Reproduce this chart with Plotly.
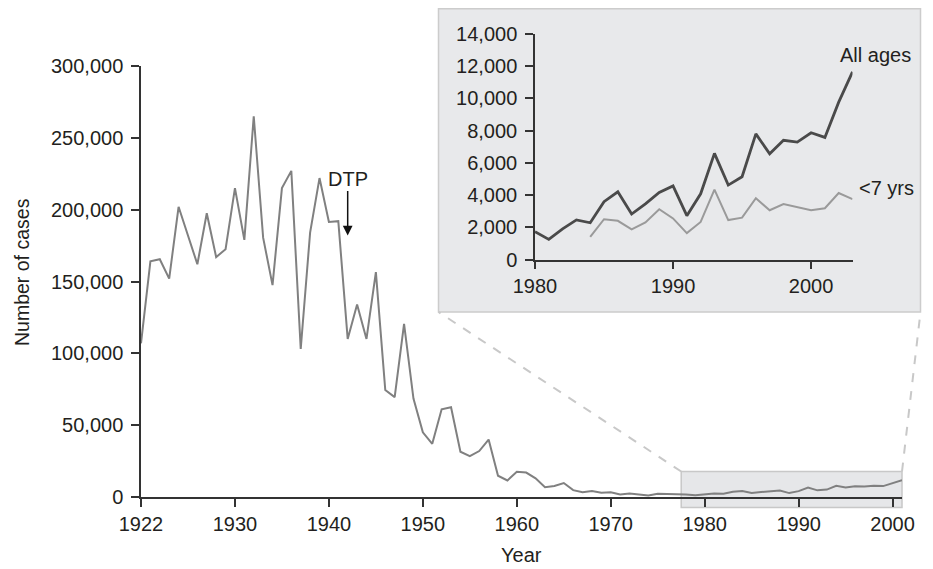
import plotly.graph_objects as go

# Reported pertussis cases, all ages (main panel), 1922-1979
years_early = list(range(1922, 1980))
cases_early = [
    107000, 164000, 165500, 152000, 202000, 181500, 162000, 197500, 167000, 172500,
    215000, 179000, 265000, 180500, 147500, 215000, 227000, 103000, 184000, 222000,
    191500, 192000, 110000, 134000, 110000, 156500, 74500, 69500, 120500, 68500,
    45000, 37000, 61000, 62500, 31500, 28500, 32000, 40000, 14800, 11500,
    17500, 17000, 13000, 6800, 7700, 9700, 4800, 3300, 4200, 3000,
    3300, 1800, 2400, 1700, 1000, 2200, 2100, 1600,
]

# Inset: 1980-2003
years_inset = list(range(1980, 2004))
all_ages = [1730, 1250, 1900, 2460, 2280, 3590, 4200, 2820, 3450, 4160, 4570, 2720,
            4080, 6590, 4620, 5140, 7800, 6560, 7400, 7290, 7870, 7580, 9770, 11650]
years_under7 = list(range(1984, 2004))
under7 = [1400, 2500, 2400, 1870, 2300, 3120, 2550, 1640, 2330, 4340,
          2450, 2600, 3800, 3060, 3440, 3250, 3060, 3180, 4130, 3750]

years_all = years_early + years_inset
cases_all = cases_early + all_ages

main_xticks = [1922, 1932, 1942, 1952, 1962, 1972, 1982, 1992, 2002]
main_xtext = ['1922', '1930', '1940', '1950', '1960', '1970', '1980', '1990', '2000']

FONT = 'Arial, Liberation Sans, sans-serif'
TXT = '#231f20'
FS = 20

# the page has an 8px body margin: the figure starts at (8, 8) in the window
FW, FH = 925, 561
OFF = 8
L, R, T, B = 133, 5, 0, 72
W = FW - L - R
H = FH - T - B


def px(x):
    # window pixel -> paper x
    return (x - OFF - L) / W


def py(y):
    # window pixel -> paper y
    return (FH - B - (y - OFF)) / H


fig = go.Figure()

fig.add_trace(go.Scatter(x=years_all, y=cases_all, mode='lines',
                         line=dict(color='#808080', width=2),
                         xaxis='x', yaxis='y', showlegend=False))
fig.add_trace(go.Scatter(x=years_inset, y=all_ages, mode='lines',
                         line=dict(color='#4a4a4a', width=2.8),
                         xaxis='x2', yaxis='y2', showlegend=False))
fig.add_trace(go.Scatter(x=years_under7, y=under7, mode='lines',
                         line=dict(color='#9a9a9a', width=2),
                         xaxis='x2', yaxis='y2', showlegend=False))

axis_common = dict(showline=True, linecolor='#333333', linewidth=1.5,
                   ticks='outside', ticklen=8, tickcolor='#333333', tickwidth=1.5,
                   showgrid=False, zeroline=False, automargin=False,
                   tickfont=dict(family=FONT, size=FS, color=TXT))

# highlighted zoom region in main panel, and inset frame
x_right = 902
x_lo = px(141 + (1979.5 - 1922) * (x_right - 141) / (2003 - 1922))
x_hi = px(x_right)
shapes = [
    dict(type='rect', xref='paper', yref='paper', x0=x_lo, x1=x_hi,
         y0=py(507.5), y1=py(471.5), fillcolor='#e6e7e9',
         line=dict(color='#c8c8c8', width=1.5), layer='below'),
    dict(type='rect', xref='paper', yref='paper', x0=px(438.5), x1=px(920.5),
         y0=py(312), y1=py(8.7), fillcolor='#e8e9eb',
         line=dict(color='#cccccc', width=1.5), layer='below'),
    dict(type='line', xref='paper', yref='paper', x0=x_lo, y0=py(471.5),
         x1=px(438.5), y1=py(312), line=dict(color='#c8c8c8', width=2, dash='dash')),
    dict(type='line', xref='paper', yref='paper', x0=x_hi, y0=py(471.5),
         x1=px(920.5), y1=py(312), line=dict(color='#c8c8c8', width=2, dash='dash')),
]

label_font = dict(family=FONT, size=FS, color=TXT)
annotations = [
    dict(x=1944, y=182000, xref='x', yref='y', text='DTP', showarrow=True,
         ax=0, ay=-57, arrowhead=2, arrowsize=1.3, arrowwidth=1.5, arrowcolor='#111111',
         font=label_font),
    # series labels sit past the inset's axis end, so place them on the page
    dict(x=px(875.5), y=py(55), xref='paper', yref='paper', text='All ages',
         showarrow=False, xanchor='center', yanchor='middle', font=label_font),
    dict(x=px(857), y=py(188), xref='paper', yref='paper', text='<7 yrs',
         showarrow=False, xanchor='left', yanchor='middle', font=label_font),
    dict(x=px(22), y=py(272), xref='paper', yref='paper', text='Number of cases',
         textangle=-90, showarrow=False, xanchor='center', yanchor='middle',
         font=dict(family=FONT, size=19.5, color=TXT)),
    dict(x=px(521), y=py(555), xref='paper', yref='paper', text='Year',
         showarrow=False, xanchor='center', yanchor='middle', font=label_font),
]

fig.update_layout(
    width=FW, height=FH,
    margin=dict(l=L, r=R, t=T, b=B),
    paper_bgcolor='white', plot_bgcolor='rgba(0,0,0,0)',
    xaxis=dict(axis_common, domain=[0, px(x_right)], range=[1922, 2003],
               tickvals=main_xticks, ticktext=main_xtext, anchor='y'),
    yaxis=dict(axis_common, domain=[0, py(66)], range=[0, 300000],
               tickvals=[0, 50000, 100000, 150000, 200000, 250000, 300000],
               tickformat=',', anchor='x', ticklabelstandoff=4),
    xaxis2=dict(axis_common, domain=[px(535), px(852.5)], range=[1980, 2003],
                tickvals=[1980, 1990, 2000], anchor='y2'),
    yaxis2=dict(axis_common, domain=[py(259.5), py(34)], range=[0, 14000],
                tickvals=list(range(0, 14001, 2000)), tickformat=',', anchor='x2',
                ticklabelstandoff=4),
    shapes=shapes,
    annotations=annotations,
)

fig.write_html('out.html')
